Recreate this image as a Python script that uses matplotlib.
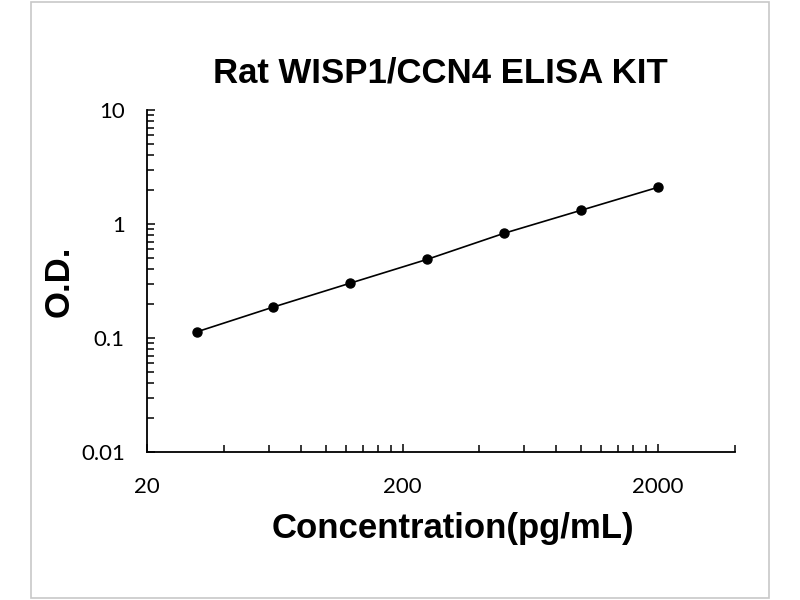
import matplotlib
matplotlib.use("Agg")
import matplotlib.pyplot as plt
from matplotlib.ticker import FixedLocator, NullFormatter
from matplotlib.patches import Rectangle

# standard curve readings
conc = [31.25, 62.5, 125, 250, 500, 1000, 2000]
od = [0.113, 0.187, 0.303, 0.49, 0.83, 1.32, 2.1]

x_major = [20, 200, 2000]
x_minor = [40, 60, 80, 100, 120, 140, 160, 180,
           400, 600, 800, 1000, 1200, 1400, 1600, 1800, 4000]
y_major = [0.01, 0.1, 1, 10]
y_major_labels = ["0.01", "0.1", "1", "10"]

fig = plt.figure(figsize=(8, 6), dpi=100)
fig.patches.append(Rectangle((31 / 800, 2 / 600), 738 / 800, 596 / 600,
                             transform=fig.transFigure, fill=False,
                             edgecolor="#c8c8c8", linewidth=1.2))

ax = fig.add_axes([147 / 800, 148 / 600, 588 / 800, 342 / 600])
ax.plot(conc, od, color="black", linewidth=1.2, marker="o",
        markersize=6.5, markerfacecolor="black")
ax.set_xscale("log")
ax.set_yscale("log")
ax.set_xlim(20, 4000)
ax.set_ylim(0.01, 10)

ax.xaxis.set_major_locator(FixedLocator(x_major))
ax.xaxis.set_minor_locator(FixedLocator(x_minor))
ax.xaxis.set_minor_formatter(NullFormatter())
ax.set_xticklabels([str(v) for v in x_major])
ax.yaxis.set_major_locator(FixedLocator(y_major))
ax.set_yticklabels(y_major_labels)
ax.yaxis.set_minor_formatter(NullFormatter())

for s in ["top", "right"]:
    ax.spines[s].set_visible(False)
for s in ["left", "bottom"]:
    ax.spines[s].set_linewidth(1.3)

ax.tick_params(which="both", direction="in", width=1.1, labelsize=16,
               colors="black")
ax.tick_params(which="major", length=6)
ax.tick_params(which="minor", length=5)
ax.tick_params(axis="x", which="major", pad=18)
ax.tick_params(axis="y", which="major", pad=16)
for lab in ax.get_xticklabels() + ax.get_yticklabels():
    lab.set_family("Lato")

ax.set_xlabel("Concentration(pg/mL)", fontsize=25, fontweight="bold",
              family="Liberation Sans")
ax.xaxis.set_label_coords(0.52, -0.175)
ax.set_ylabel("O.D.", fontsize=25, fontweight="bold",
              family="Liberation Sans", labelpad=4)
fig.text(440 / 800, 1 - 73 / 600, "Rat WISP1/CCN4 ELISA KIT", fontsize=25,
         fontweight="bold", family="Liberation Sans", ha="center", va="center")

fig.savefig("out.png", dpi=100)
